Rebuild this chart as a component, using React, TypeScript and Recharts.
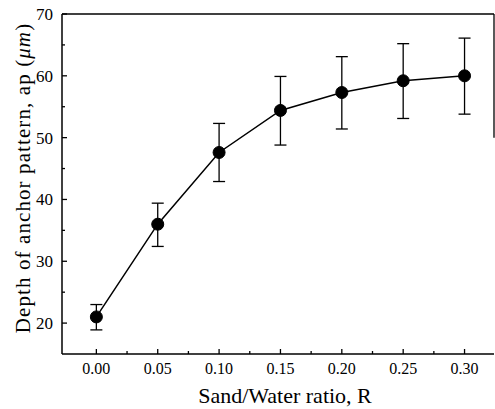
import {
  LineChart,
  Line,
  XAxis,
  YAxis,
  ErrorBar,
  ReferenceLine,
  Label,
} from 'recharts';

const ratios = [0, 0.05, 0.1, 0.15, 0.2, 0.25, 0.3];
const depth = [21.0, 36.0, 47.6, 54.4, 57.3, 59.2, 60.0];
const depthHigh = [23.0, 39.4, 52.3, 59.9, 63.1, 65.2, 66.1];
const depthLow = [18.9, 32.4, 42.9, 48.8, 51.4, 53.1, 53.8];

const xTicks = [0, 0.025, 0.05, 0.075, 0.1, 0.125, 0.15, 0.175, 0.2, 0.225, 0.25, 0.275, 0.3];
const yTicks = [20, 25, 30, 35, 40, 45, 50, 55, 60, 65, 70];

const data = ratios.map((r, i) => ({
  r,
  ap: depth[i],
  err: [depth[i] - depthLow[i], depthHigh[i] - depth[i]],
}));

const FONT = '"Liberation Serif", "DejaVu Serif", serif';

function isMajorX(v: number) {
  return Math.abs(v * 20 - Math.round(v * 20)) < 1e-6;
}

function XTick(props: any) {
  const { x, y, payload } = props;
  const major = isMajorX(payload.value);
  return (
    <g>
      <line x1={x} x2={x} y1={y} y2={y - (major ? 5 : 3)} stroke="#000" strokeWidth={1.3} />
      {major && (
        <text x={x} y={y + 9} dy="0.71em" textAnchor="middle" fontSize={16} fontFamily={FONT} fill="#000">
          {payload.value.toFixed(2)}
        </text>
      )}
    </g>
  );
}

function YTick(props: any) {
  const { x, y, payload } = props;
  const major = payload.value % 10 === 0;
  return (
    <g>
      <line x1={x} x2={x + (major ? 5 : 3)} y1={y} y2={y} stroke="#000" strokeWidth={1.3} />
      {major && (
        <text x={x - 9} y={y} dy="0.35em" textAnchor="end" fontSize={17} fontFamily={FONT} fill="#000">
          {payload.value}
        </text>
      )}
    </g>
  );
}

function YTitle(props: any) {
  const { viewBox } = props;
  const cx = viewBox.x + 23;
  const cy = viewBox.y + viewBox.height / 2 - 6;
  return (
    <text
      x={cx}
      y={cy}
      transform={`rotate(-90 ${cx} ${cy})`}
      textAnchor="middle"
      dominantBaseline="central"
      fontSize={21}
      letterSpacing={1.1}
      fontFamily={FONT}
      fill="#000"
    >
      Depth of anchor pattern, ap (<tspan fontStyle="italic">μm</tspan>)
    </text>
  );
}

function XTitle(props: any) {
  const { viewBox } = props;
  const cx = viewBox.x + viewBox.width / 2 + 7;
  return (
    <text x={cx} y={viewBox.y + 49} textAnchor="middle" fontSize={22} fontFamily={FONT} fill="#000">
      Sand/Water ratio, R
    </text>
  );
}

export default function App() {
  return (
    <div style={{ position: 'absolute', left: 0, top: 0, width: 495, height: 409, background: '#fff' }}>
      <LineChart width={495} height={409} data={data} margin={{ top: 14, right: 1, left: 0, bottom: 0 }}>
        <XAxis
          dataKey="r"
          type="number"
          domain={[-0.028, 0.324]}
          ticks={xTicks}
          interval={0}
          tick={<XTick />}
          tickLine={false}
          tickSize={0}
          tickMargin={0}
          height={55}
          stroke="#000"
          strokeWidth={1.5}
        >
          <Label content={<XTitle />} />
        </XAxis>
        <YAxis
          type="number"
          domain={[15, 70]}
          ticks={yTicks}
          interval={0}
          tick={<YTick />}
          tickLine={false}
          tickSize={0}
          tickMargin={0}
          width={62}
          stroke="#000"
          strokeWidth={1.5}
        >
          <Label content={<YTitle />} />
        </YAxis>
        <ReferenceLine y={70} stroke="#000" strokeWidth={1.5} />
        <ReferenceLine
          segment={[
            { x: 0.324, y: 70 },
            { x: 0.324, y: 50 },
          ]}
          stroke="#000"
          strokeWidth={1.3}
        />
        <Line
          type="linear"
          dataKey="ap"
          stroke="#000"
          strokeWidth={1.5}
          dot={{ r: 6, fill: '#000', stroke: '#000', strokeWidth: 1 }}
          isAnimationActive={false}
        >
          <ErrorBar dataKey="err" width={6} stroke="#000" strokeWidth={1.3} direction="y" isAnimationActive={false} />
        </Line>
      </LineChart>
    </div>
  );
}
